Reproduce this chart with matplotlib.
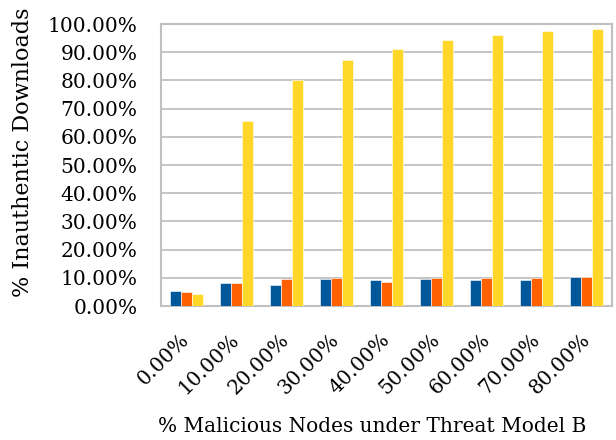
import matplotlib.pyplot as plt
import numpy as np
from matplotlib.ticker import PercentFormatter

categories = ["0.00%", "10.00%", "20.00%", "30.00%", "40.00%",
              "50.00%", "60.00%", "70.00%", "80.00%"]
series_blue = [5.4, 8.2, 7.6, 9.4, 9.2, 9.4, 9.2, 9.2, 10.4]
series_orange = [5.0, 8.2, 9.4, 9.9, 8.5, 9.9, 10.1, 10.1, 10.4]
series_yellow = [4.4, 65.6, 80.0, 87.3, 91.3, 94.3, 96.0, 97.5, 98.3]

plt.rcParams["font.family"] = "DejaVu Serif"

fig = plt.figure(figsize=(6.16, 4.4), dpi=100)
ax = fig.add_axes([161 / 616, 1 - 306 / 440, 451 / 616, 282 / 440])

x = np.arange(len(categories))
w = 0.22
colors = ["#00579A", "#FF6000", "#FFD728"]
for i, (vals, c) in enumerate(zip([series_blue, series_orange, series_yellow], colors)):
    ax.bar(x + (i - 1) * w, vals, width=w, color=c, edgecolor="white", linewidth=0.4, zorder=3)

ax.set_xlim(-0.5, len(categories) - 0.5)
ax.set_ylim(0, 100)
ax.set_yticks(np.arange(0, 101, 10))
ax.yaxis.set_major_formatter(PercentFormatter(decimals=2))
ax.yaxis.grid(True, color="#C0C0C0", linewidth=1.3, zorder=0)
ax.set_xticks(x)
ax.set_xticklabels(categories, rotation=45, ha="right", va="center", rotation_mode="anchor")
ax.tick_params(axis="both", length=0, labelsize=14.5)
ax.tick_params(axis="y", pad=17)
ax.tick_params(axis="x", pad=22)
for s in ax.spines.values():
    s.set_color("#C0C0C0")
    s.set_linewidth(1.5)

ax.set_ylabel("% Inauthentic Downloads", fontsize=16, va="center")
ax.yaxis.set_label_coords(-0.306, 0.546)
ax.set_xlabel("% Malicious Nodes under Threat Model B", fontsize=14.5, va="center")
ax.xaxis.set_label_coords(0.468, -0.429)

fig.savefig("out.png", dpi=100)
